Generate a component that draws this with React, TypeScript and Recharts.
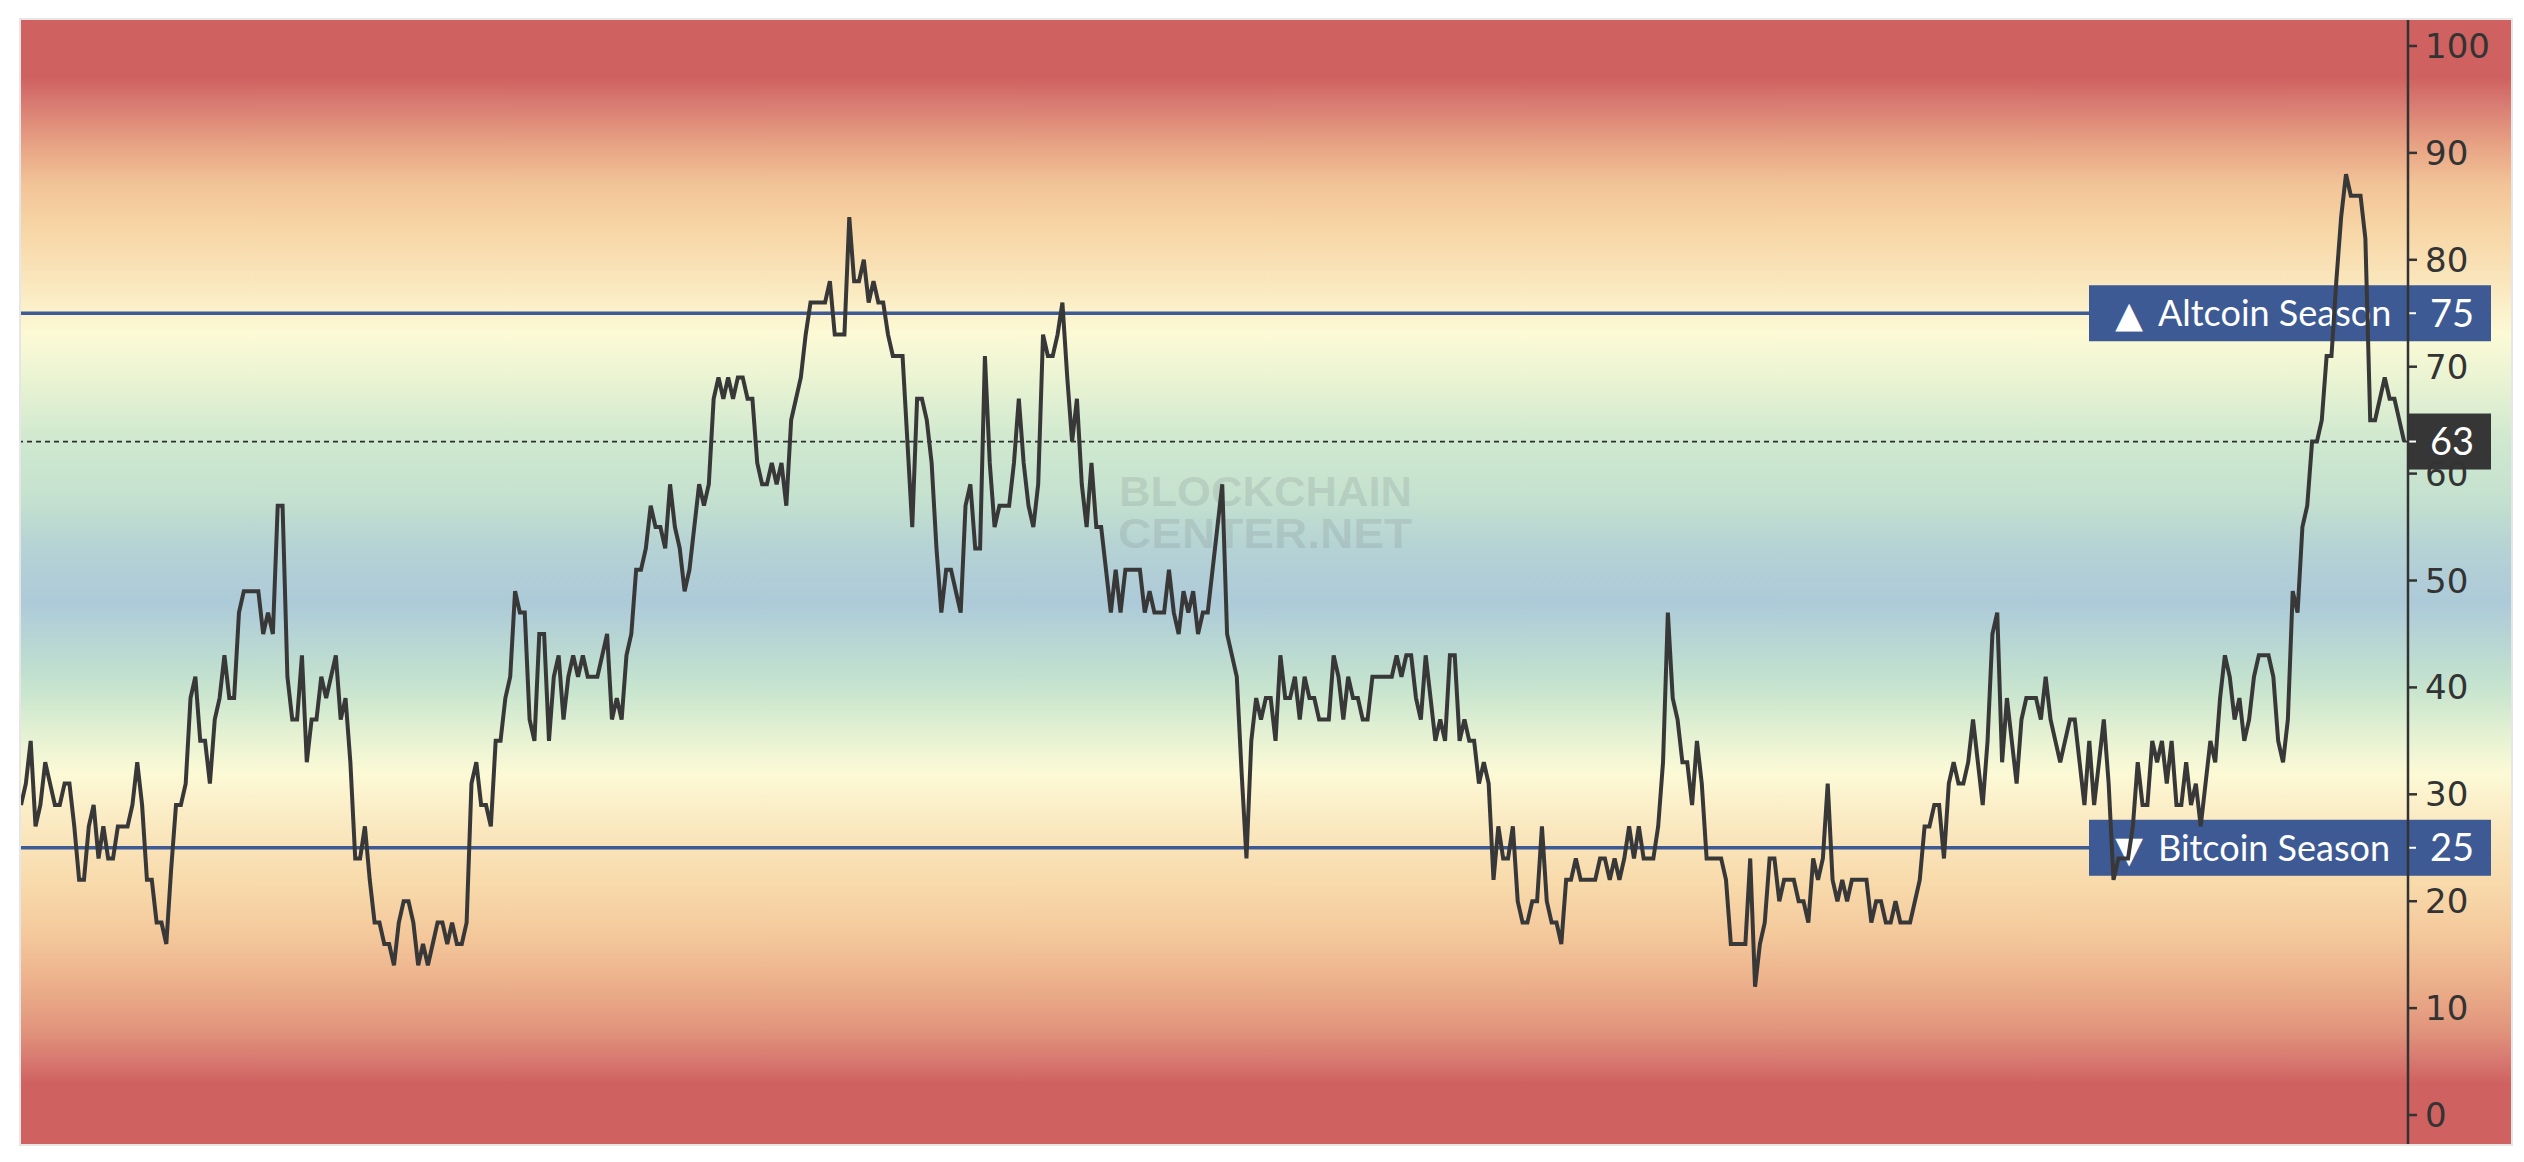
import { LineChart, Line, XAxis, YAxis, ReferenceLine } from "recharts";

// Altcoin season index, one value per step
const INDEX_PART_1 = [
  29, 31, 35, 27, 29, 33, 31, 29, 29, 31, 31, 27, 22, 22, 27, 29, 24, 27, 24, 24,
  27, 27, 27, 29, 33, 29, 22, 22, 18, 18, 16, 23, 29, 29, 31, 39, 41, 35, 35, 31,
  37, 39, 43, 39, 39, 47, 49, 49, 49, 49, 45, 47, 45, 57, 57, 41, 37, 37, 43, 33,
  37, 37, 41, 39, 41, 43, 37, 39, 33, 24, 24, 27, 22, 18, 18, 16, 16, 14, 18, 20,
  20, 18, 14, 16, 14, 16, 18, 18, 16, 18, 16, 16, 18, 31, 33, 29, 29, 27, 35, 35,
];
const INDEX_PART_2 = [
  39, 41, 49, 47, 47, 37, 35, 45, 45, 35, 41, 43, 37, 41, 43, 41, 43, 41, 41, 41,
  43, 45, 37, 39, 37, 43, 45, 51, 51, 53, 57, 55, 55, 53, 59, 55, 53, 49, 51, 55,
  59, 57, 59, 67, 69, 67, 69, 67, 69, 69, 67, 67, 61, 59, 59, 61, 59, 61, 57, 65,
  67, 69, 73, 76, 76, 76, 76, 78, 73, 73, 73, 84, 78, 78, 80, 76, 78, 76, 76, 73,
  71, 71, 71, 63, 55, 67, 67, 65, 61, 53, 47, 51, 51, 49, 47, 57, 59, 53, 53, 71,
];
const INDEX_PART_3 = [
  61, 55, 57, 57, 57, 61, 67, 61, 57, 55, 59, 73, 71, 71, 73, 76, 69, 63, 67, 59,
  55, 61, 55, 55, 51, 47, 51, 47, 51, 51, 51, 51, 47, 49, 47, 47, 47, 51, 47, 45,
  49, 47, 49, 45, 47, 47, 51, 55, 59, 45, 43, 41, 32, 24, 35, 39, 37, 39, 39, 35,
  43, 39, 39, 41, 37, 41, 39, 39, 37, 37, 37, 43, 41, 37, 41, 39, 39, 37, 37, 41,
  41, 41, 41, 41, 43, 41, 43, 43, 39, 37, 43, 39, 35, 37, 35, 43, 43, 35, 37, 35,
];
const INDEX_PART_4 = [
  35, 31, 33, 31, 22, 27, 24, 24, 27, 20, 18, 18, 20, 20, 27, 20, 18, 18, 16, 22,
  22, 24, 22, 22, 22, 22, 24, 24, 22, 24, 22, 24, 27, 24, 27, 24, 24, 24, 27, 33,
  47, 39, 37, 33, 33, 29, 35, 31, 24, 24, 24, 24, 22, 16, 16, 16, 16, 24, 12, 16,
  18, 24, 24, 20, 22, 22, 22, 20, 20, 18, 24, 22, 24, 31, 22, 20, 22, 20, 22, 22,
  22, 22, 18, 20, 20, 18, 18, 20, 18, 18, 18, 20, 22, 27, 27, 29, 29, 24, 31, 33,
];
const INDEX_PART_5 = [
  31, 31, 33, 37, 33, 29, 35, 45, 47, 33, 39, 35, 31, 37, 39, 39, 39, 37, 41, 37,
  35, 33, 35, 37, 37, 33, 29, 35, 29, 33, 37, 31, 22, 24, 24, 24, 27, 33, 29, 29,
  35, 33, 35, 31, 35, 29, 29, 33, 29, 31, 27, 31, 35, 33, 39, 43, 41, 37, 39, 35,
  37, 41, 43, 43, 43, 41, 35, 33, 37, 49, 47, 55, 57, 63, 63, 65, 71, 71, 78, 84,
  88, 86, 86, 86, 82, 65, 65, 67, 69, 67, 67, 65, 63,
];

const Y_TICKS = [0, 10, 20, 30, 40, 50, 60, 70, 80, 90, 100];
const ALTCOIN_LEVEL = 75;
const BITCOIN_LEVEL = 25;

const SERIES = [
  ...INDEX_PART_1,
  ...INDEX_PART_2,
  ...INDEX_PART_3,
  ...INDEX_PART_4,
  ...INDEX_PART_5,
];
const LAST = SERIES[SERIES.length - 1];
const chartData = SERIES.map((v, i) => ({ i, v }));

const Y_MIN = -2.71;
const Y_MAX = 102.43;
const BLUE = "#3d5a95";

// background bands (value -> colour)
const BAND_VALUES = [103, 97, 95, 90.5, 87, 83, 78, 73, 68, 63, 58, 53, 48, 44, 40, 36, 32, 27, 22, 17, 12, 8, 5, 3, -3];
const BAND_COLORS = [
  "#cf6260", "#cf6260", "#d77770", "#e8a585", "#f2c498", "#f7d5a5", "#fae6bc",
  "#fcfad6", "#e6f2d2", "#cfe8cf", "#c5e2cf", "#b5d2d5", "#adcad9", "#b8d7d3",
  "#c6e4ce", "#e2f0d2", "#fcfad6", "#fae8c0", "#f8dbac", "#f4c99c", "#ebae8a",
  "#e1957c", "#d77770", "#cf6260", "#cf6260",
];
const pct = (v: number) => ((Y_MAX - v) / (Y_MAX - Y_MIN)) * 100;
const background = `linear-gradient(to bottom, ${BAND_VALUES.map(
  (v, k) => `${BAND_COLORS[k]} ${pct(v).toFixed(2)}%`
).join(", ")})`;

function SeasonLabel({ viewBox, title, level, up }: any) {
  const axisX = viewBox.x + viewBox.width;
  const cy = viewBox.y;
  return (
    <g>
      <rect x={axisX - 319} y={cy - 28} width={402} height={56} fill={BLUE} />
      <text x={axisX - 279} y={cy + 14} textAnchor="middle" fill="#fff" fontFamily="DejaVu Sans" fontSize={36}>
        {up ? "▲" : "▼"}
      </text>
      <text x={axisX - 250} y={cy + 13} fill="#fff" fontFamily="Lato" fontSize={36}>
        {title}
      </text>
      <line x1={axisX} x2={axisX + 8} y1={cy} y2={cy} stroke="#fff" strokeWidth={2} />
      <text x={axisX + 22} y={cy + 13.5} fill="#fff" fontFamily="Lato" fontSize={38}>
        {level}
      </text>
    </g>
  );
}

function LastLabel({ viewBox }: any) {
  const axisX = viewBox.x + viewBox.width;
  const cy = viewBox.y;
  return (
    <g>
      <rect x={axisX} y={cy - 28} width={83} height={56} fill="#363636" />
      <line x1={axisX} x2={axisX + 8} y1={cy} y2={cy} stroke="#fff" strokeWidth={2} />
      <text x={axisX + 22} y={cy + 13.5} fill="#fff" fontFamily="Lato" fontSize={38}>
        {LAST}
      </text>
    </g>
  );
}

export default function App() {
  return (
    <div
      style={{
        position: "absolute",
        left: 19,
        top: 18,
        width: 2494,
        height: 1128,
        border: "2px solid #e6e6e6",
        boxSizing: "border-box",
        background,
        overflow: "hidden",
      }}
    >
      {/* watermark */}
      <svg width={2490} height={1124} style={{ position: "absolute", left: 0, top: 0 }}>
        <g fill="#7d8b8b" fillOpacity={0.22} fontFamily="Liberation Sans" fontWeight="bold" fontSize={42}>
          <text x={1098} y={486} textLength={293} lengthAdjust="spacingAndGlyphs">
            BLOCKCHAIN
          </text>
          <text x={1097} y={528} textLength={294} lengthAdjust="spacingAndGlyphs">
            CENTER.NET
          </text>
        </g>
      </svg>
      <div style={{ position: "absolute", left: 0, top: 0 }}>
        <LineChart width={2490} height={1124} data={chartData} margin={{ top: 0, right: 0, bottom: 0, left: 0 }}>
          <XAxis dataKey="i" type="number" domain={[0, 492.8]} hide />
          <YAxis
            orientation="right"
            width={103}
            domain={[Y_MIN, Y_MAX]}
            allowDataOverflow
            ticks={Y_TICKS}
            interval={0}
            tickSize={9}
            tickMargin={8}
            axisLine={{ stroke: "#333", strokeWidth: 2.5 }}
            tickLine={{ stroke: "#333", strokeWidth: 2.5 }}
            tick={{ fontFamily: "DejaVu Sans", fontSize: 34, fill: "#333" }}
          />
          <ReferenceLine
            y={LAST}
            stroke="#2e2e2e"
            strokeWidth={1.8}
            strokeDasharray="5 4"
            label={(p: any) => <LastLabel {...p} />}
          />
          <ReferenceLine
            y={ALTCOIN_LEVEL}
            stroke={BLUE}
            strokeWidth={3.5}
            label={(p: any) => <SeasonLabel {...p} title="Altcoin Season" level={ALTCOIN_LEVEL} up />}
          />
          <ReferenceLine
            y={BITCOIN_LEVEL}
            stroke={BLUE}
            strokeWidth={3.5}
            label={(p: any) => <SeasonLabel {...p} title="Bitcoin Season" level={BITCOIN_LEVEL} up={false} />}
          />
          <Line
            type="linear"
            dataKey="v"
            stroke="#383838"
            strokeWidth={4}
            dot={false}
            isAnimationActive={false}
            zIndex={3000}
          />
        </LineChart>
      </div>
    </div>
  );
}
